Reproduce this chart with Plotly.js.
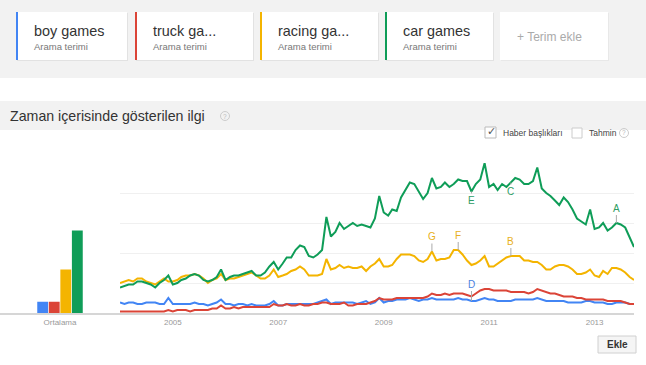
<!DOCTYPE html>
<html><head><meta charset="utf-8">
<script src="https://cdn.plot.ly/plotly-3.0.1.min.js"></script>
<style>html,body{margin:0;padding:0;background:#fff;}#chart{width:646px;height:365px;}</style>
</head><body><div id="chart"></div>
<script>
// ---- data ----
const terms = ['boy games', 'truck games', 'racing games', 'car games'];
const cardLabels = ['boy games', 'truck ga...', 'racing ga...', 'car games'];
const cardSub = 'Arama terimi';
const averageLabel = 'Ortalama';
const averages = [7.5, 7.5, 29, 55];
const firstMonth = '2004-01';
const yearTicks = ['2005', '2007', '2009', '2011', '2013'];

const boyGames = [7,6,7,7,6,6,7,7,7,6,6,10,6,6,6,6,6,7,6,6,5,6,7,9,6,6,5,6,6,5,6,5,5,5,6,8,5,5,6,6,6,6,6,6,6,7,8,9,6,7,7,7,7,7,6,7,8,6,7,10,7,8,8,9,9,9,10,9,8,9,9,10,9,9,9,9,9,10,9,9,8,8,9,10,9,9,8,8,8,8,9,9,9,9,9,10,9,8,8,8,8,8,7,7,7,7,8,8,7,7,7,6,6,7,7,7,6,6];
const truckGames = [1,1,1,1,1,1,1,1,1,1,1,2,1,2,2,2,1,2,2,2,2,3,3,5,3,3,4,3,4,4,4,4,4,4,4,6,5,5,6,5,5,6,5,5,6,6,7,7,6,6,6,7,5,5,6,6,6,7,8,10,9,9,9,10,10,10,10,10,10,10,11,13,12,12,13,12,13,13,13,12,11,13,15,16,16,15,15,15,15,14,14,14,14,13,14,16,15,14,13,13,12,11,11,11,10,10,9,9,9,9,9,8,8,8,8,7,6,6];
const racingGames = [20,21,22,21,23,23,21,20,19,21,23,21,21,22,24,25,25,26,25,23,20,22,23,26,22,23,23,24,25,26,27,25,23,23,25,29,24,25,26,28,29,31,29,25,25,25,26,36,29,30,32,30,31,30,30,31,28,31,33,36,31,31,32,36,39,39,39,38,35,34,36,41,35,36,36,37,42,42,39,35,32,33,35,38,31,31,33,35,37,38,38,38,35,35,34,34,32,29,29,31,32,32,31,29,26,26,27,29,25,24,28,26,30,30,29,27,24,22];
const carGames = [17,18,19,19,21,21,20,19,17,20,22,25,19,20,22,23,25,26,25,22,21,22,24,29,22,24,25,25,26,27,28,25,25,27,31,34,29,33,37,37,42,45,44,38,37,39,42,64,51,54,60,56,58,60,58,59,58,57,63,78,67,65,69,68,77,82,87,86,81,76,80,90,83,84,87,84,86,89,88,88,81,86,89,100,84,86,82,86,84,87,90,89,86,86,88,97,83,80,78,75,72,77,74,69,63,61,59,69,56,57,60,55,57,60,59,57,50,44];

// news headline markers: letter, series index, month index
const markerLetters = ['A', 'B', 'C', 'D', 'E', 'F', 'G'];
const markerSeries = [3, 2, 3, 0, 3, 2, 2];
const markerMonth = [113, 89, 89, 80, 80, 77, 71];
const markerBelow = [false, false, true, false, true, false, false];

// ---- styles ----
const colors = ['#4285f4', '#db4437', '#f4b400', '#0f9d58'];
const letterColors = ['#4a7fe0', '#db4437', '#e8b020', '#2e9d63'];
const series = [boyGames, truckGames, racingGames, carGames];
const W = 646, H = 365;
const X = p => p / W, Y = p => 1 - p / H;
const FONT = 'Arial, "Liberation Sans", sans-serif';

const [sy, sm] = firstMonth.split('-').map(Number);
const dates = carGames.map((_, i) => {
  const t = (sy * 12 + sm - 1) + i;
  const y = Math.floor(t / 12), m = t % 12 + 1;
  return y + '-' + String(m).padStart(2, '0') + '-01';
});

const traces = [];
terms.forEach((t, i) => {
  traces.push({type: 'bar', x: [averageLabel], y: [averages[i]], name: t,
    marker: {color: colors[i]}, xaxis: 'x', yaxis: 'y', showlegend: false, hoverinfo: 'skip'});
});
terms.forEach((t, i) => {
  traces.push({type: 'scatter', mode: 'lines', x: dates, y: series[i], name: t,
    line: {color: colors[i], width: 2}, xaxis: 'x2', yaxis: 'y2', showlegend: false, hoverinfo: 'skip'});
});

const shapes = [];
const annotations = [];
const rect = (x0, y0, x1, y1, fill, line) => shapes.push({type: 'rect', xref: 'paper', yref: 'paper',
  x0: X(x0), x1: X(x1), y0: Y(y1), y1: Y(y0), fillcolor: fill, line: line || {width: 0}, layer: 'below'});
const text = (x, y, s, size, color, anchor, extra) => annotations.push(Object.assign({xref: 'paper', yref: 'paper',
  x: X(x), y: Y(y), text: s, showarrow: false, xanchor: anchor || 'left', yanchor: 'middle',
  font: {family: FONT, size: size, color: color}}, extra || {}));

// header
rect(0, 0, W, 78, '#f2f2f2');
const cards = [[16, 127], [135, 253], [260, 378], [385, 493]];
cards.forEach((c, i) => {
  rect(c[0] + 1, 13, c[1] + 1, 61, '#e2e2e2');
  rect(c[0], 12, c[1], 60, '#ffffff');
  rect(c[0], 12, c[0] + 2, 60, colors[i]);
  text(c[0] + 16, 31, cardLabels[i], 14.4, '#333');
  text(c[0] + 16, 46.5, cardSub, 9.5, '#777');
});
rect(501, 13, 609, 61, '#e8e8e8');
rect(500, 12, 608, 60, '#ffffff');
text(549, 37, '+ Terim ekle', 12, '#aaa', 'center');

// section title band
rect(0, 101, W, 130, '#f2f2f2');
text(8, 116, 'Zaman içerisinde gösterilen ilgi', 14.2, '#333');
const qmark = (cx, cy) => {
  shapes.push({type: 'circle', xref: 'paper', yref: 'paper', x0: X(cx - 4.5), x1: X(cx + 4.5), y0: Y(cy + 4.5), y1: Y(cy - 4.5),
    line: {color: '#ccc', width: 1}, fillcolor: 'rgba(0,0,0,0)'});
  text(cx, cy, '?', 6.5, '#bbb', 'center');
};
qmark(225, 116);
// checkboxes
rect(485, 127, 496, 138, '#fff', {color: '#bbb', width: 1});
text(491, 131, '✓', 11, '#555', 'center');
text(501, 133, 'Haber başlıkları', 8.5, '#444');
rect(572, 128, 582, 138, '#fff', {color: '#ccc', width: 1});
text(587, 133, 'Tahmin', 8.5, '#444');
qmark(624, 133);

// Ekle button
rect(598, 336, 636, 353, '#f5f5f5', {color: '#d0d0d0', width: 1});
text(617, 344.5, '<b>Ekle</b>', 10, '#333', 'center');

// event markers
markerLetters.forEach((L, k) => {
  const si = markerSeries[k], mi = markerMonth[k];
  annotations.push({xref: 'x2', yref: 'y2', x: dates[mi], y: series[si][mi], text: L,
    showarrow: true, arrowhead: 0, arrowwidth: 1, arrowcolor: '#aaa',
    ax: 0, ay: markerBelow[k] ? 9 : (si === 0 ? -17 : -15), standoff: 0,
    font: {family: FONT, size: 10, color: letterColors[si]}});
});

const yTop = 163, yBase = 313;
const layout = {
  width: W, height: H, margin: {l: 0, r: 0, t: 0, b: 0}, paper_bgcolor: '#fff', plot_bgcolor: 'rgba(0,0,0,0)',
  font: {family: FONT},
  barmode: 'group', bargap: 0.23, bargroupgap: 0.06,
  xaxis: {domain: [0, X(120)], type: 'category', range: [-1, 1], showgrid: false, showline: true,
    linecolor: '#d6d6d6', linewidth: 2, ticks: '', tickfont: {size: 8, color: '#999'}, fixedrange: true},
  yaxis: {domain: [Y(yBase), Y(yTop)], range: [0, 100], showgrid: false, zeroline: false, showticklabels: false, fixedrange: true},
  xaxis2: {domain: [X(120), X(634)], type: 'date', range: [dates[0], dates[dates.length - 1]], anchor: 'y2',
    tickmode: 'array', tickvals: yearTicks.map(y => y + '-01-01'), ticktext: yearTicks,
    showgrid: false, showline: true, linecolor: '#d6d6d6', linewidth: 2, ticks: '',
    tickfont: {size: 8, color: '#999'}, fixedrange: true},
  yaxis2: {domain: [Y(yBase), Y(yTop)], range: [0, 100], anchor: 'x2', dtick: 20, showgrid: true,
    gridcolor: '#f0f0f0', gridwidth: 1, zeroline: false, showticklabels: false, fixedrange: true},
  shapes: shapes, annotations: annotations, showlegend: false
};
Plotly.newPlot('chart', traces, layout, {displayModeBar: false, staticPlot: true});
</script></body></html>
